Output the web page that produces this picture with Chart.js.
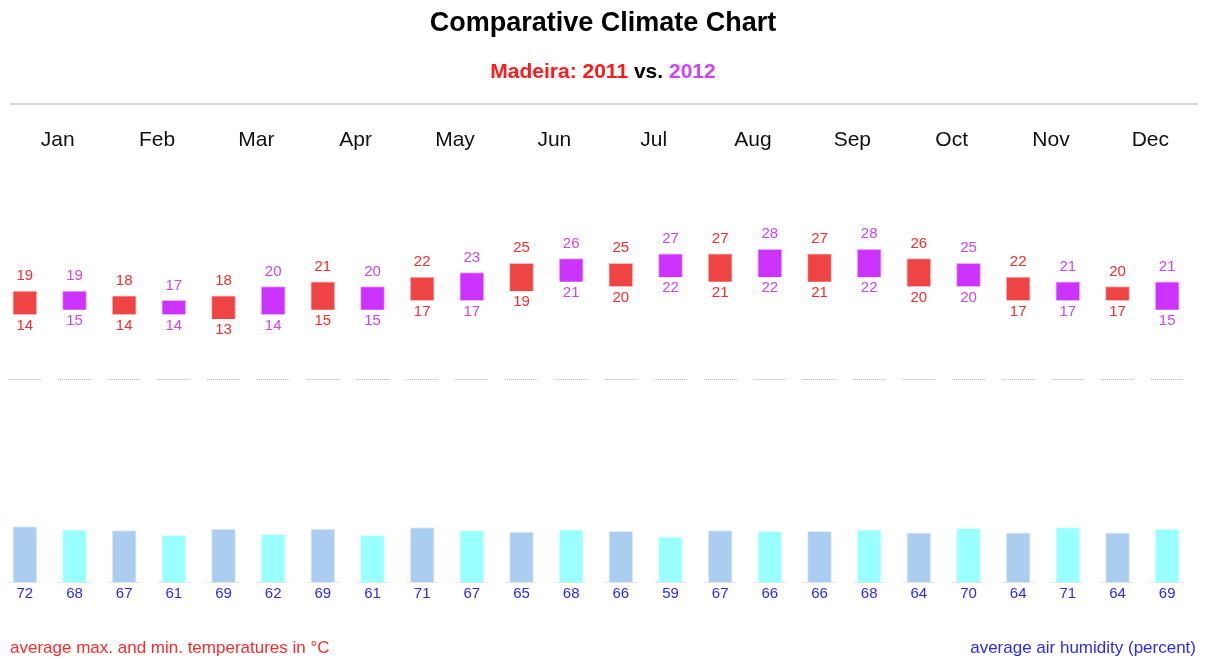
<!DOCTYPE html>
<html>
<head>
<meta charset="utf-8">
<script src="https://cdn.jsdelivr.net/npm/chart.js@4"></script>
<style>
  body { margin: 0; background: #fff; font-family: "Liberation Sans", Arial, sans-serif; }
  #wrap { position: relative; width: 1206px; height: 659px; overflow: hidden; }
  #chart { position: absolute; left: 0; top: 0; }
  .txt { position: absolute; white-space: nowrap; }
  #title { left: 0; width: 1206px; text-align: center; top: 8px; font-size: 27px; line-height: 28px; font-weight: bold; color: #000; }
  #sub { left: 0; width: 1206px; text-align: center; top: 60px; font-size: 21px; line-height: 22px; font-weight: bold; color: #000; }
  #rule { position: absolute; left: 10px; width: 1188px; top: 103px; height: 0; border-top: 2px solid #d6d6d6; }
  #footL { left: 10px; top: 638px; font-size: 17px; line-height: 20px; color: #ff2a2a; }
  #footR { right: 10px; top: 638px; font-size: 17px; line-height: 20px; color: #2a2aff; }
</style>
</head>
<body>
<div id="wrap">
  <canvas id="chart" width="1206" height="659"></canvas>
  <div class="txt" id="title">Comparative Climate Chart</div>
  <div class="txt" id="sub"><span style="color:#ff1a1a">Madeira: 2011</span> vs. <span style="color:#cc44ff">2012</span></div>
  <div id="rule"></div>
  <div class="txt" id="footL">average max. and min. temperatures in °C</div>
  <div class="txt" id="footR">average air humidity (percent)</div>
</div>
<script>
const months = ['Jan','Feb','Mar','Apr','May','Jun','Jul','Aug','Sep','Oct','Nov','Dec'];
const max2011 = [19, 18, 18, 21, 22, 25, 25, 27, 27, 26, 22, 20];
const min2011 = [14, 14, 13, 15, 17, 19, 20, 21, 21, 20, 17, 17];
const max2012 = [19, 17, 20, 20, 23, 26, 27, 28, 28, 25, 21, 21];
const min2012 = [15, 14, 14, 15, 17, 21, 22, 22, 22, 20, 17, 15];
const hum2011 = [72, 67, 69, 69, 71, 65, 66, 67, 66, 64, 64, 64];
const hum2012 = [68, 61, 62, 61, 67, 68, 59, 66, 68, 70, 71, 69];

// 24 columns: 2011 and 2012 side by side for each month
const cols = [];
months.forEach(m => { cols.push(m + ' 2011'); cols.push(m + ' 2012'); });
const forYear = (arr, y) => cols.map((c, i) => (i % 2 === y ? arr[Math.floor(i / 2)] : null));
const rangeFor = (lo, hi, y) => cols.map((c, i) => (i % 2 === y ? [lo[Math.floor(i / 2)], hi[Math.floor(i / 2)]] : null));

// dotted baseline pieces under every column
const baselinePieces = () => {
  const out = [];
  cols.forEach((c, i) => { out.push({x: i - 0.33, y: 0}, {x: i + 0.33, y: 0}, {x: i, y: null}); });
  return out;
};

const valueLabels = {
  id: 'valueLabels',
  afterDatasetsDraw(chart) {
    const ctx = chart.ctx;
    ctx.save();
    ctx.font = '15px "Liberation Sans", Arial, sans-serif';
    ctx.textAlign = 'center';
    ctx.textBaseline = 'middle';
    chart.data.datasets.forEach((ds, di) => {
      if (!ds.labelColor) return;
      const meta = chart.getDatasetMeta(di);
      meta.data.forEach((el, i) => {
        const v = ds.data[i];
        if (v == null) return;
        ctx.fillStyle = ds.labelColor;
        if (Array.isArray(v)) {
          ctx.fillText(String(v[1]), el.x, el.y - 15);
          ctx.fillText(String(v[0]), el.x, el.base + 11);
        } else {
          ctx.fillText(String(v), el.x, el.base + 11);
        }
      });
    });
    ctx.restore();
  }
};

new Chart(document.getElementById('chart'), {
  type: 'bar',
  data: {
    labels: cols,
    datasets: [
      { label: 'temp 2011', data: rangeFor(min2011, max2011, 0), yAxisID: 'yT', grouped: false, barThickness: 24,
        backgroundColor: '#ef4444', borderColor: '#f8b8b8', borderWidth: 1, labelColor: '#ff2a2a' },
      { label: 'temp 2012', data: rangeFor(min2012, max2012, 1), yAxisID: 'yT', grouped: false, barThickness: 24,
        backgroundColor: '#cc33ff', borderColor: '#eab0ff', borderWidth: 1, labelColor: '#cc44ff' },
      { label: 'hum 2011', data: forYear(hum2011, 0), yAxisID: 'yH', grouped: false, barThickness: 24,
        backgroundColor: '#abcdef', borderColor: '#e2eefa', borderWidth: 1, labelColor: '#2a2aff' },
      { label: 'hum 2012', data: forYear(hum2012, 1), yAxisID: 'yH', grouped: false, barThickness: 24,
        backgroundColor: '#99ffff', borderColor: '#dcffff', borderWidth: 1, labelColor: '#2a2aff' },
      { type: 'line', data: baselinePieces(), xAxisID: 'xl', yAxisID: 'yT', borderColor: '#b4acac', borderWidth: 1,
        borderDash: [1, 1], pointRadius: 0, spanGaps: false },
      { type: 'line', data: baselinePieces(), xAxisID: 'xl', yAxisID: 'yH', borderColor: '#a8a8b4', borderWidth: 1,
        borderDash: [1, 1], pointRadius: 0, spanGaps: false, order: -1 }
    ]
  },
  options: {
    responsive: false,
    animation: false,
    layout: { padding: { left: 0, right: 14, top: 120, bottom: 76.5 } },
    plugins: { legend: { display: false }, tooltip: { enabled: false } },
    scales: {
      x: { display: false },
      xl: { type: 'linear', display: false, offset: false, min: -0.5, max: 23.5 },
      xm: {
        type: 'category', labels: months, position: 'top', offset: true,
        grid: { display: false, drawTicks: false }, border: { display: false },
        ticks: { font: { family: '"Liberation Sans", Arial, sans-serif', size: 21 }, color: '#111',
                 padding: 7, labelOffset: 8, maxRotation: 0, autoSkip: false },
        afterFit: s => { s.height = 40; }
      },
      yT: { display: false, min: -43.66, max: 47.2 },
      yH: { display: false, min: 0, max: 545 }
    }
  },
  plugins: [valueLabels]
});
</script>
</body>
</html>
